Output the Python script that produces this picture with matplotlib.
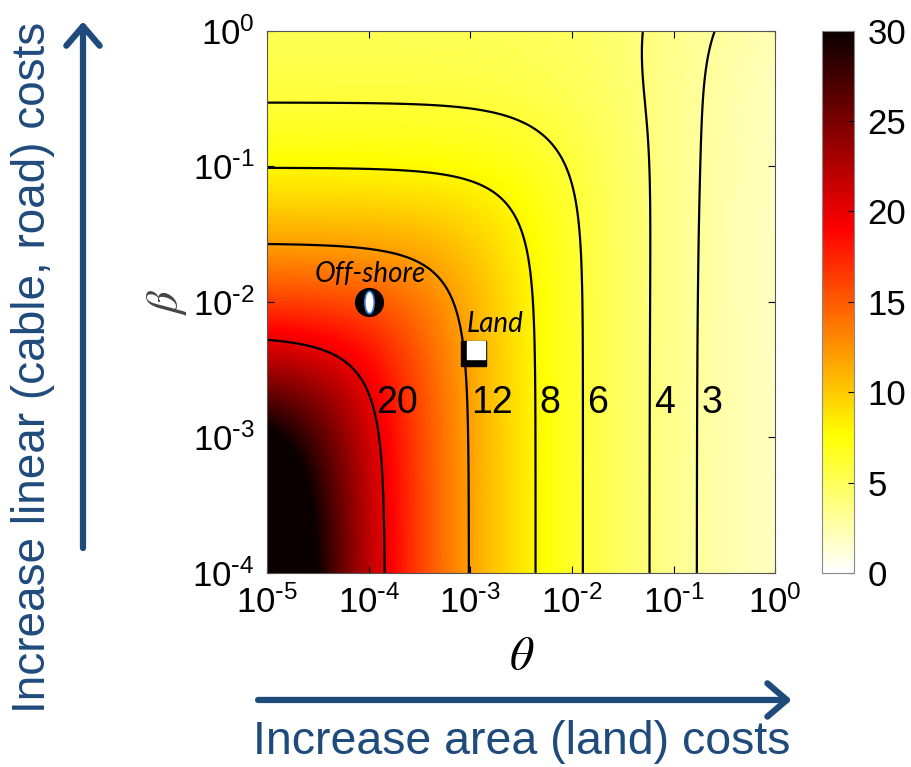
import numpy as np
import matplotlib.pyplot as plt
from matplotlib.path import Path
from matplotlib.transforms import Affine2D, offset_copy
from matplotlib.patches import FancyArrowPatch
from matplotlib.ticker import NullLocator, FuncFormatter

plt.rcParams['font.family'] = ['Liberation Sans', 'DejaVu Sans']
plt.rcParams['axes.unicode_minus'] = False

# contour levels and where each one crosses the plot
levels = np.array([20, 12, 8, 6, 4, 3])
theta_bottom = np.array([1.35e-4, 1.0e-3, 4.6e-3, 1.35e-2, 5.6e-2, 1.62e-1])  # at beta = 1e-4
beta_left = np.array([5.2e-3, 2.8e-2, 1.05e-1, 3.1e-1])  # at theta = 1e-5 (levels 20, 12, 8, 6)
theta_mid = np.array([5.25e-2, 1.81e-1])  # at beta = 0.19 (levels 4, 3)
theta_top = np.array([4.7e-2, 2.4e-1])  # at beta = 1 (levels 4, 3)
beta_mid = 0.19
value_top_left = 5.2  # colour read at theta = 1e-5, beta = 1
label_beta = 1.8e-3

offshore = (1.0e-4, 1.0e-2)
land = (1.05e-3, 4.2e-3)
x_ticks = [1e-5, 1e-4, 1e-3, 1e-2, 1e-1, 1e0]
y_ticks = [1e-4, 1e-3, 1e-2, 1e-1, 1e0]
cbar_ticks = [0, 5, 10, 15, 20, 25, 30]
blue = '#1f4a7c'

# smooth surface fitted through the readings:
# value = A * s**k,  s = theta + h(beta) - d * beta**m * theta**n
k1, k0 = np.polyfit(np.log10(theta_bottom), np.log10(levels), 1)
h_top = 10 ** ((np.log10(value_top_left) - k0) / k1) - 1e-5
r = 1.5


def sat(raw, hm):
    return raw * (1 + (raw / hm) ** r) ** (-1 / r)


best = None
for hm in np.logspace(np.log10(theta_bottom[3] * 1.01), -1, 600):
    raw = theta_bottom[:4] * (1 - (theta_bottom[:4] / hm) ** r) ** (-1 / r)
    p, logc = np.polyfit(np.log10(beta_left), np.log10(raw), 1)
    err = abs(np.log10(sat(10 ** logc, hm)) - np.log10(h_top))
    if best is None or err < best[0]:
        best = (err, hm, p, 10 ** logc)
_, hmax, p, c = best


def h(be):
    return sat(c * be ** p, hmax)


D_top = theta_top + h(1.0) - theta_bottom[4:]
n, logd = np.polyfit(np.log10(theta_top), np.log10(D_top), 1)
d = 10 ** logd
D_mid = theta_mid + h(beta_mid) - theta_bottom[4:]
m = np.mean(np.log10(D_mid / (d * theta_mid ** n)) / np.log10(beta_mid))


def field(th, be):
    s = th + h(be) - d * be ** m * th ** n
    return 10 ** k0 * s ** k1


th = np.logspace(-5, 0, 400)
be = np.logspace(-4, 0, 400)
TH, BE = np.meshgrid(th, be)
Z = field(TH, BE)

fig = plt.figure(figsize=(9.12, 7.67), dpi=100)
ax = fig.add_axes([0.293, 0.253, 0.557, 0.707])
cax = fig.add_axes([0.901, 0.253, 0.035, 0.707])

pcm = ax.pcolormesh(TH, BE, Z, cmap='hot_r', vmin=0, vmax=30, shading='gouraud', rasterized=True)
ax.set_xscale('log')
ax.set_yscale('log')
ax.contour(TH, BE, Z, levels=sorted(levels), colors='k', linewidths=1.6)

# level labels just right of each line
row = field(th, label_beta)
for L in levels:
    tc = 10 ** np.interp(np.log10(L), np.log10(row[::-1]), np.log10(th[::-1]))
    ax.annotate(str(L), (tc, label_beta), xytext=(3, 0), textcoords='offset points',
                ha='left', va='center', fontsize=27)

# markers
ax.plot(*offshore, 'o', ms=20, color='black', zorder=5)
ell = Path.unit_circle().transformed(Affine2D().scale(0.42, 1))
ax.plot(*offshore, marker=ell, ms=16, mfc='white', mec='#3d7fd6', mew=1.2, ls='none', zorder=6)
ax.annotate('Off-shore', offshore, xytext=(1, 14), textcoords='offset points', ha='center',
            va='baseline', fontsize=20, style='italic', family=['Lato', 'DejaVu Sans'])

ax.plot(*land, 's', ms=18, color='black', zorder=5)
ax.plot(*land, 's', ms=13.5, color='white', zorder=6,
        transform=offset_copy(ax.transData, fig=fig, x=2.7, y=2.2, units='points'))
ax.annotate('Land', land, xytext=(-4.5, 15), textcoords='offset points', ha='left',
            va='baseline', fontsize=20, style='italic', family=['Lato', 'DejaVu Sans'])


def decade(v, pos):
    e = int(round(np.log10(v)))
    ex = r'\text{-}%d' % -e if e < 0 else '%d' % e
    return r'$\mathdefault{10^{%s}}$' % ex


ax.set_xlim(1e-5, 1)
ax.set_ylim(1e-4, 1)
ax.set_xticks(x_ticks)
ax.set_yticks(y_ticks)
ax.xaxis.set_major_formatter(FuncFormatter(decade))
ax.yaxis.set_major_formatter(FuncFormatter(decade))
ax.xaxis.set_minor_locator(NullLocator())
ax.yaxis.set_minor_locator(NullLocator())
ax.tick_params(labelsize=25, direction='in', length=5, width=0.8, top=True, right=True)
ax.tick_params(axis='x', pad=9)
ax.tick_params(axis='y', pad=9)
for sp in ax.spines.values():
    sp.set_edgecolor('#555555')
ax.set_xlabel(r'$\theta$', fontsize=34, math_fontfamily='stix', labelpad=11)
ax.set_ylabel(r'$\beta$', fontsize=32, math_fontfamily='stix', labelpad=2, color='#444444')

cb = fig.colorbar(pcm, cax=cax, ticks=cbar_ticks)
cb.ax.tick_params(labelsize=25, direction='in', length=4, width=0.8, pad=10)
cb.outline.set_edgecolor('#888888')

# cost arrows and captions
head = '->,head_length=0.7,head_width=0.6'
fig.add_artist(FancyArrowPatch((0.091, 0.2855), (0.091, 0.972), transform=fig.transFigure,
                               arrowstyle=head, mutation_scale=20, lw=4.5, color=blue,
                               capstyle='round', joinstyle='round', shrinkA=0, shrinkB=0))
fig.add_artist(FancyArrowPatch((0.283, 0.0874), (0.868, 0.0874), transform=fig.transFigure,
                               arrowstyle=head, mutation_scale=20, lw=4.5, color=blue,
                               capstyle='round', joinstyle='round', shrinkA=0, shrinkB=0))
fig.text(0.036, 0.521, 'Increase linear (cable, road) costs', rotation=90, ha='center',
         va='center', fontsize=33, color=blue)
fig.text(0.572, 0.033, 'Increase area (land) costs', ha='center', va='center',
         fontsize=33.5, color=blue)

fig.savefig('out.png', dpi=100)
